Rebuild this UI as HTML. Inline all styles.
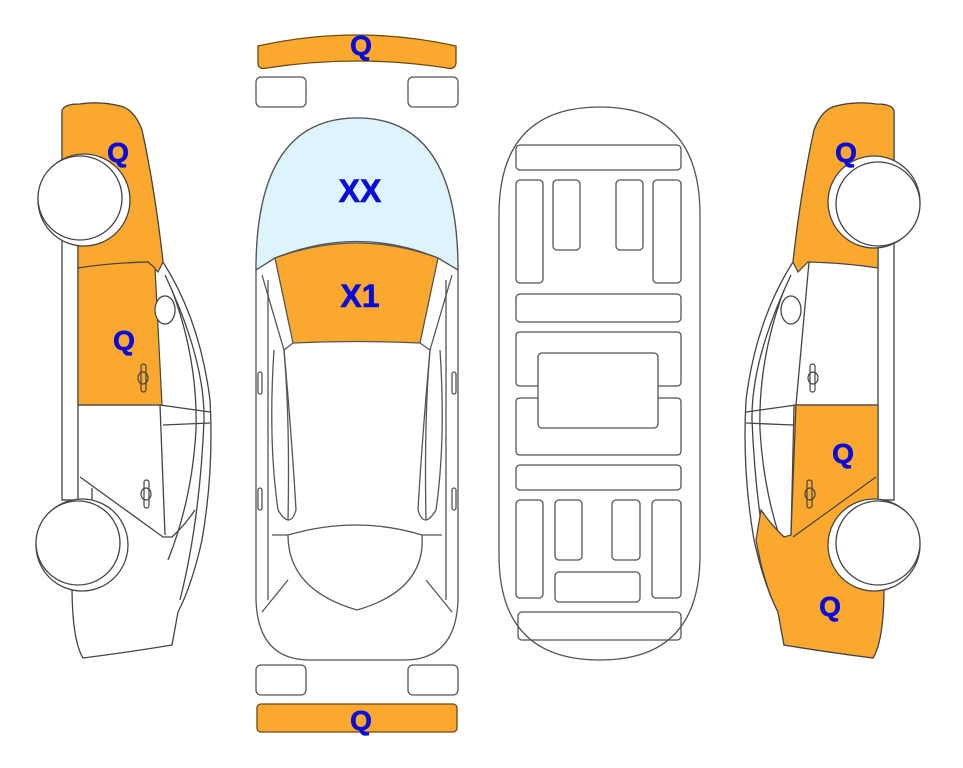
<!DOCTYPE html>
<html><head><meta charset="utf-8"><style>
html,body{margin:0;padding:0;background:#fff;width:963px;height:768px;overflow:hidden}
svg{display:block}
text{font-family:"Liberation Sans",sans-serif;font-weight:700;fill:#0a0adc;text-anchor:middle;stroke:#0a0adc;stroke-width:0.6}
</style></head><body>
<svg width="963" height="768" viewBox="0 0 963 768" xmlns="http://www.w3.org/2000/svg">
<defs>
<g id="car" stroke="#444" stroke-width="1.3" fill="none">
  <path d="M62,112 Q62,104 80,104 Q100,101 120,106 Q134,109 142,130 Q155,190 163,262 Q200,320 210,400 Q214,470 202,540 Q192,585 178,612 L172,645 Q130,652 83,658 Q72,640 72,585 L72,500 L62,500 L62,112 Z" fill="#fff"/>
  <path d="M78,243 L78,500 M62,500 L90,500 L92,503"/>
  <path d="M165,275 Q205,360 204,420 Q200,520 180,600"/>
  <path d="M172,290 Q198,360 196,430 Q192,500 168,560"/>
  <path d="M147,262 L160,405 L165,535"/>
  <path d="M160,405 L210,412 M163,425 L210,423"/>
  <path d="M78,405 L160,405"/>
  <path d="M80,477 L163,537 L172,537 Q185,525 195,510"/>
  <path d="M92,488 L92,503"/>
  <ellipse cx="165" cy="310" rx="10" ry="14" fill="#fff"/>
  <g stroke-width="1.2"><rect x="141" y="364" width="5" height="28" rx="2.5" fill="#fff"/><ellipse cx="143" cy="378" rx="5" ry="6"/></g>
  <g stroke-width="1.2"><rect x="144" y="480" width="5" height="28" rx="2.5" fill="#fff"/><ellipse cx="146" cy="494" rx="5" ry="6"/></g>
</g>
</defs>

<!-- LEFT CAR -->
<use href="#car"/>
<path d="M62,160 L62,112 Q62,104 80,104 Q100,101 120,106 Q134,109 142,130 Q155,190 163,262 L158,272 L148,262 Q110,263 78,268 L78,240 L62,240 Z" fill="#fba92e" stroke="#444" stroke-width="1.2"/>
<path d="M78,268 Q110,263 148,262 L155,268 L162,405 L78,405 Z" fill="#fba92e" stroke="#444" stroke-width="1.2"/>
<g stroke-width="1.2" stroke="#444" fill="none"><rect x="141" y="364" width="5" height="28" rx="2.5" fill="#fba92e"/><ellipse cx="143" cy="378" rx="5" ry="6"/></g>
<ellipse cx="165" cy="310" rx="10" ry="14" fill="#fff" stroke="#444" stroke-width="1.2"/>
<circle cx="84" cy="200" r="46" fill="#fff" stroke="#444" stroke-width="1.3"/>
<circle cx="80" cy="198" r="42" fill="#fff" stroke="#444" stroke-width="1.3"/>
<circle cx="82" cy="545" r="46" fill="#fff" stroke="#444" stroke-width="1.3"/>
<circle cx="78" cy="543" r="42" fill="#fff" stroke="#444" stroke-width="1.3"/>
<text x="118" y="162" font-size="28">Q</text>
<text x="124" y="350" font-size="28">Q</text>

<!-- RIGHT CAR (mirror) -->
<g transform="translate(956,0) scale(-1,1)">
  <use href="#car"/>
  <path d="M62,160 L62,112 Q62,104 80,104 Q100,101 120,106 Q134,109 142,130 Q155,190 163,262 L158,272 L148,262 Q110,263 78,268 L78,240 L62,240 Z" fill="#fba92e" stroke="#444" stroke-width="1.2"/>
  <path d="M78,405 L162,405 L165,535 L172,537 Q185,525 195,510 L200,540 Q192,585 178,612 L172,645 Q130,652 83,658 Q72,640 72,585 L72,500 L78,500 Z" fill="#fba92e" stroke="#444" stroke-width="1.2"/>
  <path d="M80,477 L163,537 M160,405 L165,535" stroke="#444" stroke-width="1.2" fill="none"/>
  <g stroke-width="1.2" stroke="#444" fill="none"><rect x="144" y="480" width="5" height="28" rx="2.5" fill="#fba92e"/><ellipse cx="146" cy="494" rx="5" ry="6"/></g>
  <circle cx="82" cy="202" r="46" fill="#fff" stroke="#444" stroke-width="1.3"/>
  <circle cx="78" cy="204" r="42" fill="#fff" stroke="#444" stroke-width="1.3"/>
  <circle cx="82" cy="545" r="46" fill="#fff" stroke="#444" stroke-width="1.3"/>
  <circle cx="78" cy="543" r="42" fill="#fff" stroke="#444" stroke-width="1.3"/>
</g>
<text x="846" y="162" font-size="28">Q</text>
<text x="843" y="463" font-size="28">Q</text>
<text x="830" y="616" font-size="28">Q</text>

<!-- CENTER TOP VIEW -->
<g stroke="#555" stroke-width="1.3" fill="none">
  <path d="M258,46 Q357,24 456,46 L456,63 Q455,70 447,68 Q357,54 267,68 Q258,70 258,63 Z" fill="#fba92e" stroke="#6b4a10"/>
  <rect x="256" y="77" width="50" height="30" rx="5" fill="#fff"/>
  <rect x="408" y="77" width="50" height="30" rx="5" fill="#fff"/>
  <path d="M256,270 L256,600 Q258,660 310,660 L404,660 Q456,660 458,600 L458,270 Q458,118 357,118 Q256,118 256,270 Z" fill="#fff"/>
  <path d="M256,270 Q256,118 357,118 Q458,118 458,270 L438,258 Q357,225 275,258 Z" fill="#ddf4fc"/>
  <path d="M275,258 Q357,228 438,258 L420,343 Q357,340 293,343 Z" fill="#fba92e"/>
  <path d="M256,270 L275,258 M458,270 L438,258"/>
  <path d="M262,275 L284,350 L293,343 M452,275 L430,350 L420,343"/>
  <path d="M284,350 Q290,420 288,520 M430,350 Q424,420 426,520"/>
  <path d="M268,280 L268,600 M446,280 L446,600"/>
  <path d="M274,350 Q268,440 278,510 Q290,530 296,510 Q292,440 284,350"/>
  <path d="M440,350 Q446,440 436,510 Q424,530 418,510 Q422,440 430,350"/>
  <path d="M288,535 Q357,515 422,535 M288,535 Q288,590 357,610 Q426,590 422,535"/>
  <path d="M288,535 L272,535 M422,535 L442,535 M288,580 L262,612 M426,580 L452,612"/>
  <rect x="258" y="372" width="4" height="22" rx="2"/>
  <rect x="452" y="372" width="4" height="22" rx="2"/>
  <rect x="258" y="488" width="4" height="22" rx="2"/>
  <rect x="452" y="488" width="4" height="22" rx="2"/>
  <rect x="256" y="665" width="50" height="30" rx="5" fill="#fff"/>
  <rect x="408" y="665" width="50" height="30" rx="5" fill="#fff"/>
  <rect x="257" y="704" width="200" height="28" rx="4" fill="#fba92e" stroke="#6b4a10"/>
</g>
<text x="361" y="55" font-size="28">Q</text>
<text x="360" y="202" font-size="32">XX</text>
<text x="360" y="307" font-size="32">X1</text>
<text x="361" y="730" font-size="28">Q</text>

<!-- UNDERSIDE VIEW -->
<g stroke="#555" stroke-width="1.3" fill="none">
  <path d="M499,215 Q499,107 600,107 Q700,107 700,215 L700,555 Q700,660 600,660 Q499,660 499,555 Z"/>
  <rect x="516" y="145" width="165" height="25" rx="4"/>
  <rect x="516" y="180" width="27" height="103" rx="4"/>
  <rect x="553" y="180" width="27" height="70" rx="4"/>
  <rect x="616" y="180" width="27" height="70" rx="4"/>
  <rect x="653" y="180" width="28" height="103" rx="4"/>
  <rect x="516" y="294" width="165" height="28" rx="4"/>
  <path d="M538,386 L520,386 Q516,386 516,382 L516,336 Q516,332 520,332 L677,332 Q681,332 681,336 L681,382 Q681,386 677,386 L658,386"/>
  <path d="M538,398 L520,398 Q516,398 516,402 L516,451 Q516,455 520,455 L677,455 Q681,455 681,451 L681,402 Q681,398 677,398 L658,398"/>
  <rect x="538" y="353" width="120" height="75" rx="4"/>
  <rect x="516" y="465" width="165" height="25" rx="4"/>
  <rect x="516" y="500" width="27" height="98" rx="4"/>
  <rect x="555" y="500" width="27" height="60" rx="4"/>
  <rect x="612" y="500" width="28" height="60" rx="4"/>
  <rect x="652" y="500" width="29" height="98" rx="4"/>
  <rect x="555" y="572" width="85" height="30" rx="4"/>
  <rect x="518" y="612" width="163" height="28" rx="4"/>
</g>
</svg>
</body></html>
